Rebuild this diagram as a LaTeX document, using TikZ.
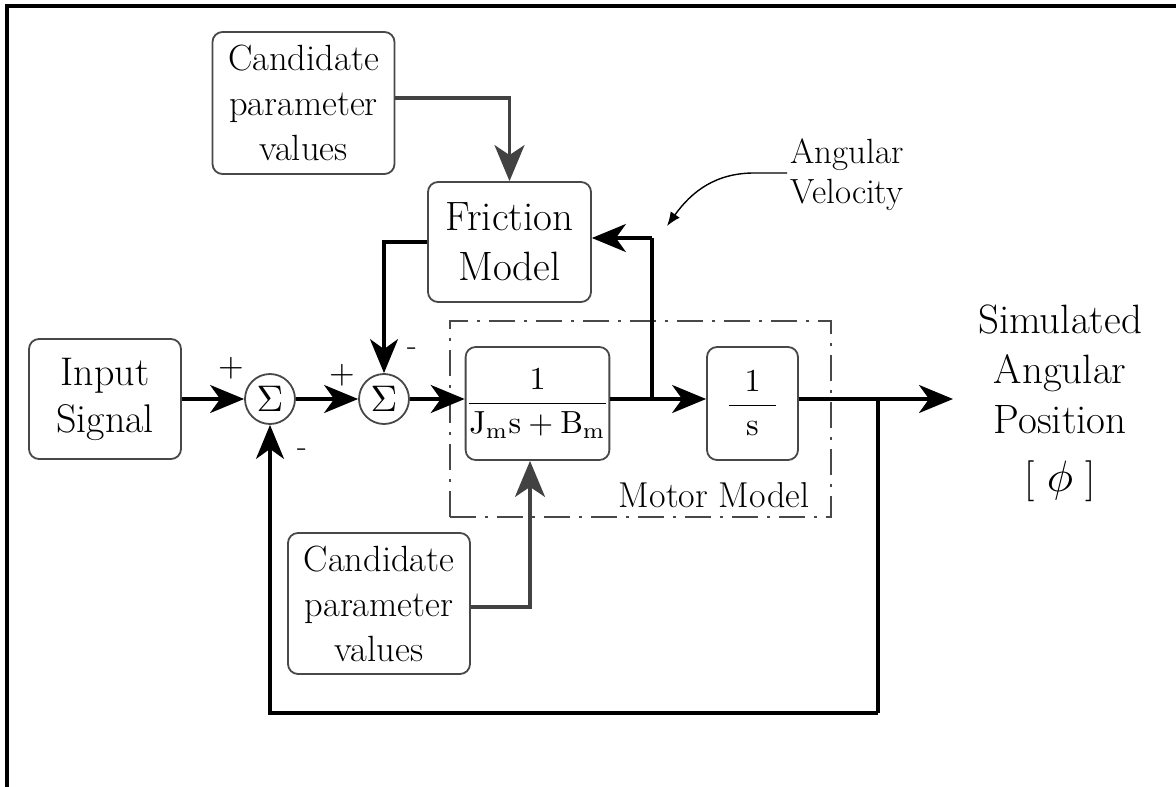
\documentclass[tikz,border=0pt]{standalone}
\usepackage{amsmath}
\usepackage{graphicx}
\usepackage{fontspec}
\usetikzlibrary{arrows.meta,calc}
\definecolor{edge}{RGB}{72,72,72}
\definecolor{feed}{RGB}{66,66,66}
% math set at 10pt and scaled up, so the symbols stay sharp at any size
\newcommand{\bigmath}[2]{\scalebox{#1}{\fontsize{10}{12}\selectfont$#2$}}
\begin{document}
\begin{tikzpicture}[x=1pt,y=-1pt,
  blk/.style={draw=edge,line width=1.8pt,rounded corners=10pt,fill=white,inner sep=0pt,align=center},
  sumnode/.style={circle,draw=edge,line width=1.8pt,minimum size=50pt,inner sep=0pt,fill=white},
  sig/.style={line width=3.2pt,-{Stealth[length=34pt,width=28pt,inset=10pt]}},
  par/.style={draw=feed,line width=3.4pt,-{Stealth[length=36pt,width=30pt,inset=10pt,fill=feed]}},
  lbl/.style={inner sep=0pt,align=center},
  pm/.style={inner sep=0pt},
  motorbox/.style={draw=edge,line width=1.8pt,dash pattern=on 26pt off 9pt on 3pt off 9pt,
                   inner sep=0pt,minimum width=381pt,minimum height=196pt},
]
\useasboundingbox (0,0) rectangle (1176,787);

% outer frame (top and left edges)
\draw[line width=4pt] (6.5,787) -- (6.5,5.5) -- (1176,5.5);

% motor model group
\node[motorbox] (motor) at (640.5,419) {};
\node[lbl,font=\fontsize{36}{40}\selectfont] (mmlabel) at (714,495) {Motor Model};

% blocks
\node[blk,minimum width=182pt,minimum height=142pt,font=\fontsize{36.5}{45}\selectfont]
  (cand1) at (303.5,103) {Candidate\\parameter\\values};
\node[blk,minimum width=163pt,minimum height=120pt,font=\fontsize{41}{50}\selectfont]
  (fric) at (509.5,242) {Friction\\Model};
\node[blk,minimum width=152pt,minimum height=120pt,font=\fontsize{40}{47}\selectfont]
  (input) at (105,399) {Input\\Signal};
\node[sumnode] (s1) at (270,399) {\bigmath{3.7}{\Sigma}};
\node[sumnode] (s2) at (384,399) {\bigmath{3.7}{\Sigma}};
\node[blk,minimum width=137pt,minimum height=113pt]
  (b1) at (537.5,403.5) {\bigmath{3.2}{\dfrac{1}{\mathrm{J}_{\mathrm{m}}\mathrm{s}+\mathrm{B}_{\mathrm{m}}}}};
\node[blk,minimum width=91pt,minimum height=113pt]
  (b2) at (752.5,403.5) {\bigmath{3.2}{\dfrac{1}{\hspace{0.55em}\mathrm{s}\hspace{0.55em}}}};
\node[blk,minimum width=182pt,minimum height=141pt,font=\fontsize{36.5}{45}\selectfont]
  (cand2) at (379,603.5) {Candidate\\parameter\\values};

% signs at the summing junctions
\node[pm] (p1) at (231,368) {\bigmath{3.3}{+}};
\node[pm] (p2) at (342,375) {\bigmath{3.3}{+}};
\node[pm,font=\fontsize{32}{32}\selectfont] (m2) at (412,352) {-};
\node[pm,font=\fontsize{32}{32}\selectfont] (m1) at (302,453) {-};

% output and velocity labels
\node[lbl,font=\fontsize{41}{50}\selectfont] (simpos) at (1060,403)
  {Simulated\\Angular\\Position\\[8pt]{[}\hspace{0.3em}\bigmath{4.4}{\phi}\hspace{0.3em}{]}};
\node[lbl,font=\fontsize{35}{40}\selectfont] (angvel) at (847,175) {Angular\\Velocity};

% helper points
\coordinate (vel) at (652,399);
\coordinate (velTop) at (652,238);
\coordinate (out) at (953,399);
\coordinate (tap) at (878,399);
\coordinate (fbl) at (878,713);
\coordinate (cv) at (667,226);
\coordinate (b1in) at ($(b1.south)+(-7.5,0)$);

% parameter inputs
\draw[par] ($(cand1.east)+(0,-5)$) -| (fric.north);
\draw[par] ($(cand2.east)+(0,3.5)$) -| (b1in);

% forward path
\draw[sig] (input.east) -- (s1.west);
\draw[sig] (s1.east) -- (s2.west);
\draw[sig] (s2.east) -- (s2.east -| b1.west);
\draw[sig] (b1.east |- s2) -- (b2.west |- s2);
\draw[sig] (b2.east |- s2) -- (out);

% friction loop
\draw[line width=3.2pt] (vel) -- (velTop);
\draw[sig] (velTop) -- (fric.east |- velTop);
\draw[sig] (fric.west) -| (s2.north);

% position feedback
\draw[line width=3.2pt] (tap) -- (fbl);
\draw[sig] (fbl) -| (s1.south);

% pointer to the velocity signal
\draw[line width=1.4pt,-{Latex[length=14pt,width=11pt]}]
  ($(angvel.west)+(-3,-2)$) -- ++(-33,0) .. controls +(-38,0) and +(25,-35) .. (cv);
\end{tikzpicture}
\end{document}
